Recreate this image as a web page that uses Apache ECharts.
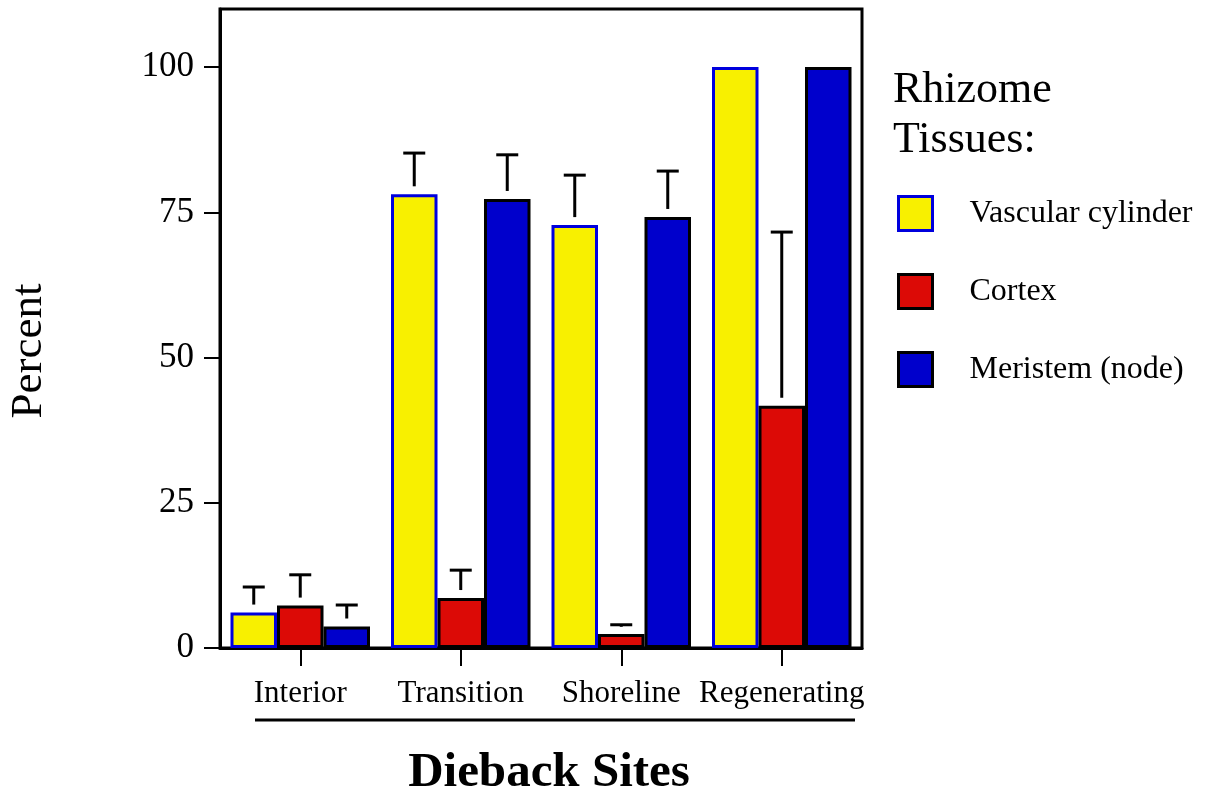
<!DOCTYPE html>
<html>
<head>
<meta charset="utf-8">
<script src="https://cdn.jsdelivr.net/npm/echarts@6/dist/echarts.min.js"></script>
<style>
html,body{margin:0;padding:0;background:#fff;}
#c{width:1206px;height:793px;}
</style>
</head>
<body>
<div id="c"></div>
<script>
const categories = ['Interior', 'Transition', 'Shoreline', 'Regenerating'];
const seriesNames = ['Vascular cylinder', 'Cortex', 'Meristem (node)'];
const vascular = [6.1, 78.1, 72.8, 100];
const cortex = [7.3, 8.6, 2.4, 41.7];
const meristem = [3.7, 77.3, 74.2, 100];
const vascularSE = [4.4, 7.1, 8.6, 0];
const cortexSE = [5.3, 4.8, 1.6, 29.9];
const meristemSE = [3.7, 7.6, 7.9, 0];
const yTicks = [0, 25, 50, 75, 100];

const FONT = '"Liberation Serif", "Times New Roman", serif';
const BAR_W = 46.5;
const values = [vascular, cortex, meristem];
const errs = [vascularSE, cortexSE, meristemSE];
const fills = ['#f8f000', '#dc0a06', '#0000cc'];
const borders = ['#0000dd', '#000000', '#000000'];

const chart = echarts.init(document.getElementById('c'), null, {renderer: 'canvas'});

const barSeries = seriesNames.map((name, i) => ({
  name: name,
  type: 'bar',
  data: values[i],
  barWidth: BAR_W,
  barGap: '0%',
  itemStyle: {color: fills[i], borderColor: borders[i], borderWidth: 3},
  emphasis: {disabled: true},
  z: 2
}));

const errSeries = seriesNames.map((name, i) => ({
  name: name + ' SE',
  type: 'custom',
  z: 3,
  data: values[i].map((v, k) => [k, v, v + errs[i][k]]),
  renderItem: function (params, api) {
    const k = api.value(0);
    const v = api.value(1);
    const top = api.value(2);
    if (top <= v) return null;
    const base = api.coord([k, v]);
    const hi = api.coord([k, top]);
    const x = base[0] + (i - 1) * BAR_W;
    const yStart = Math.max(base[1] - 8, hi[1] + 2);
    const children = [{
      type: 'line',
      shape: {x1: x - 11, y1: hi[1], x2: x + 11, y2: hi[1]},
      style: {stroke: '#000', lineWidth: 3}
    }, {
      type: 'line',
      shape: {x1: x, y1: hi[1], x2: x, y2: yStart},
      style: {stroke: '#000', lineWidth: 3}
    }];
    return {type: 'group', children: children};
  }
}));

const option = {
  backgroundColor: '#fff',
  animation: false,
  grid: {left: 220, right: 344, top: 9, bottom: 145, show: true, borderColor: '#000', borderWidth: 3, containLabel: false},
  legend: {
    orient: 'vertical',
    left: 892,
    top: 190,
    itemWidth: 34,
    itemHeight: 34,
    itemGap: 41,
    icon: 'rect',
    selectedMode: false,
    textStyle: {fontFamily: FONT, fontSize: 32, color: '#000', lineHeight: 34, padding: [0, 0, 0, 32]},
    data: seriesNames.map((n, i) => ({name: n, itemStyle: {color: fills[i], borderColor: borders[i], borderWidth: 3}}))
  },
  xAxis: {
    type: 'category',
    data: categories,
    axisLine: {show: true, lineStyle: {color: '#000', width: 3}},
    axisTick: {show: true, alignWithLabel: true, interval: 0, length: 18, lineStyle: {color: '#000', width: 2}},
    axisLabel: {fontFamily: FONT, fontSize: 31, color: '#000', margin: 30, interval: 0, hideOverlap: false}
  },
  yAxis: {
    type: 'value',
    min: 0,
    max: 110,
    interval: 25,
    splitLine: {show: false},
    axisLine: {show: true, lineStyle: {color: '#000', width: 3}},
    axisTick: {show: true, length: 16, customValues: yTicks, lineStyle: {color: '#000', width: 2}},
    axisLabel: {
      fontFamily: FONT, fontSize: 35, color: '#000', margin: 26, customValues: yTicks, padding: [6, 0, 0, 0]
    }
  },
  graphic: [
    {type: 'text', left: 893, top: 68, style: {text: 'Rhizome', font: '44px ' + FONT, fill: '#000'}},
    {type: 'text', left: 893, top: 118, style: {text: 'Tissues:', font: '44px ' + FONT, fill: '#000'}},
    {type: 'text', x: 29, y: 351, rotation: Math.PI / 2, style: {text: 'Percent', font: '45px ' + FONT, fill: '#000', align: 'center', verticalAlign: 'middle'}},
    {type: 'text', x: 549, y: 773, style: {text: 'Dieback Sites', font: 'bold 49px ' + FONT, fill: '#000', align: 'center', verticalAlign: 'middle'}},
    {type: 'line', shape: {x1: 255, y1: 720, x2: 855, y2: 720}, style: {stroke: '#000', lineWidth: 3}}
  ],
  series: barSeries.concat(errSeries)
};
chart.setOption(option);
</script>
</body>
</html>
